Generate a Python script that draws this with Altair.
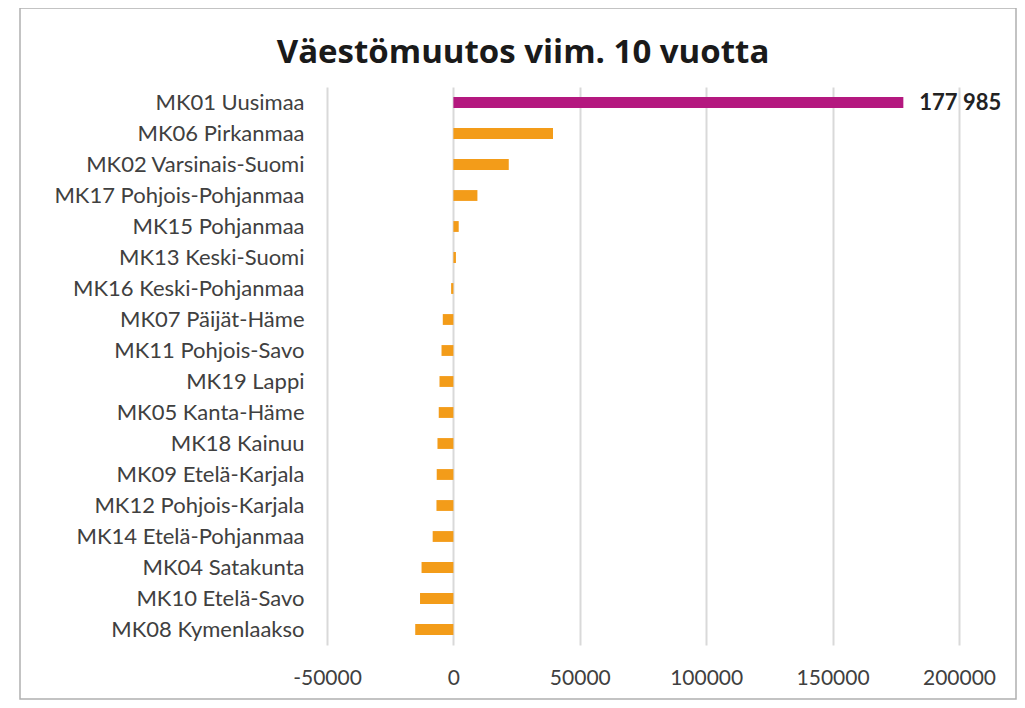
import altair as alt
import pandas as pd

regions = ["MK01 Uusimaa", "MK06 Pirkanmaa", "MK02 Varsinais-Suomi", "MK17 Pohjois-Pohjanmaa",
           "MK15 Pohjanmaa", "MK13 Keski-Suomi", "MK16 Keski-Pohjanmaa", "MK07 Päijät-Häme",
           "MK11 Pohjois-Savo", "MK19 Lappi", "MK05 Kanta-Häme", "MK18 Kainuu",
           "MK09 Etelä-Karjala", "MK12 Pohjois-Karjala", "MK14 Etelä-Pohjanmaa",
           "MK04 Satakunta", "MK10 Etelä-Savo", "MK08 Kymenlaakso"]
changes = [177985, 39400, 21900, 9500, 2100, 1000, -900, -4200, -4700, -5500, -5800,
           -6300, -6600, -6700, -8200, -12600, -13200, -15100]
highlight = ["Uusimaa"] + ["muu"] * (len(regions) - 1)
labels = ["177 985"] + [""] * (len(regions) - 1)
title_text = ["Väestömuutos viim. 10 vuotta"]
x_ticks = [-50000, 0, 50000, 100000, 150000, 200000]

df = pd.DataFrame({"alue": regions, "muutos": changes, "ryhma": highlight, "nimi": labels})

FONT = "Lato"
W, H = 632, 558

y_enc = alt.Y("alue:N", sort=regions, title=None,
              scale=alt.Scale(paddingInner=0.65, paddingOuter=0.325),
              axis=alt.Axis(labelFontSize=22, labelColor="#404040", labelFont=FONT,
                            labelPadding=23, labelLimit=400, ticks=False, domain=False, grid=False))
x_enc = alt.X("muutos:Q", title=None,
              scale=alt.Scale(domain=[-50000, 200000], nice=False),
              axis=alt.Axis(values=x_ticks, labelExpr="replace(format(datum.value, 'd'), '−', '-')",
                            labelFontSize=21, labelColor="#404040", labelFont=FONT,
                            labelPadding=22, labelFlush=False, labelOverlap=False,
                            ticks=False, domain=False,
                            grid=True, gridColor="#d9d9d9", gridWidth=2))

bars = alt.Chart(df).mark_bar().encode(
    y=y_enc, x=x_enc,
    color=alt.Color("ryhma:N", scale=alt.Scale(domain=["Uusimaa", "muu"],
                                               range=["#B4187F", "#F39C19"]), legend=None),
)

text = alt.Chart(df).mark_text(align="left", dx=16, fontSize=22, fontWeight="bold",
                               font=FONT, color="#222222").encode(
    y=alt.Y("alue:N", sort=regions), x="muutos:Q", text="nimi:N")

title = alt.Chart(pd.DataFrame({"t": title_text})).mark_text(
    align="center", baseline="alphabetic", fontSize=33, fontWeight="bold",
    font="Open Sans", color="#1a1a1a").encode(
    x=alt.value(196), y=alt.value(-24), text="t:N")

border = alt.Chart(pd.DataFrame({"k": [1]})).mark_rect(
    fill=None, stroke="#b0b0b0", strokeWidth=1.5, clip=False).encode(
    x=alt.value(-307), x2=alt.value(689), y=alt.value(-79), y2=alt.value(612))

chart = alt.layer(bars, text, title, border).properties(
    width=W, height=H,
    autosize=alt.AutoSizeParams(type="none"),
    padding={"left": 319, "top": 79, "right": 58, "bottom": 55},
).configure_view(stroke=None)

chart.save("out.html", embed_options={"renderer": "svg", "actions": False})
